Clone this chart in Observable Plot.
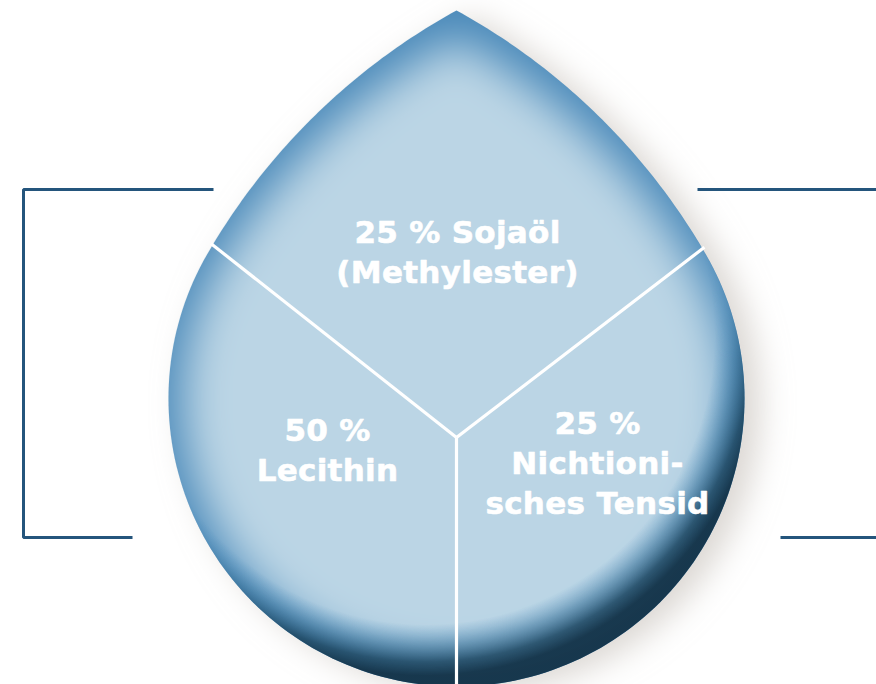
<!DOCTYPE html>
<html><head><meta charset="utf-8">
<script src="https://cdn.jsdelivr.net/npm/d3@7"></script>
<script src="https://cdn.jsdelivr.net/npm/@observablehq/plot@0.6"></script>
<style>body{margin:0;background:#fff}#chart{width:876px;height:684px;overflow:hidden}</style>
</head><body><div id="chart"></div>
<script>
// ---- data ----
const segments = ["Sojaöl (Methylester)", "Lecithin", "Nichtionisches Tensid"];
const shares = [25, 50, 25];
const labelLines = [
  ["25 % Sojaöl", "(Methylester)"],
  ["50 %", "Lecithin"],
  ["25 %", "Nichtioni-", "sches Tensid"]
];
const dividerAngles = [52.5, 180, 308.3]; // divider directions as drawn (deg, clockwise from up)

// ---- layout ----
const W = 876, H = 684;
const drop = {cx: 456, cy: 398, r: 288, apexY: 10, theta: 60};
const hub = {x: 456, y: 437};
const labelAnchor = [{x: 457, y: 242}, {x: 327, y: 440}, {x: 597, y: 433}];
const lineGap = 40;
const brackets = [
  {id: "L", pts: [[213, 189], [23, 189], [23, 537], [132, 537]]},
  {id: "R1", pts: [[697, 189], [880, 189]]},
  {id: "R2", pts: [[780, 537], [880, 537]]}
];

// ---- drop outline geometry ----
function dropOutline(d) {
  const {cx, cy, r, apexY} = d, th = d.theta * Math.PI / 180;
  const h = cy - apexY;
  const k = (h * h - r * r) / (2 * (r - h * Math.cos(th)));
  const R = k + r;
  const CL = [cx + k * Math.sin(th), cy + k * Math.cos(th)];
  const CR = [cx - k * Math.sin(th), cy + k * Math.cos(th)];
  const TL = [cx - r * Math.sin(th), cy - r * Math.cos(th)];
  const TR = [cx + r * Math.sin(th), cy - r * Math.cos(th)];
  const pts = [];
  const n = 60;
  let a0 = Math.atan2(apexY - CL[1], cx - CL[0]), a1 = Math.atan2(TL[1] - CL[1], TL[0] - CL[0]);
  for (let i = 0; i <= n; i++) { const a = a0 + (a1 - a0) * i / n; pts.push([CL[0] + R * Math.cos(a), CL[1] + R * Math.sin(a)]); }
  const b0 = Math.atan2(TL[1] - cy, TL[0] - cx), b0p = b0 < 0 ? b0 + 2 * Math.PI : b0;
  const b1 = Math.atan2(TR[1] - cy, TR[0] - cx);
  for (let i = 1; i < 160; i++) { const a = b0p + (b1 - b0p) * i / 160; pts.push([cx + r * Math.cos(a), cy + r * Math.sin(a)]); }
  a0 = Math.atan2(TR[1] - CR[1], TR[0] - CR[0]); a1 = Math.atan2(apexY - CR[1], cx - CR[0]);
  for (let i = 0; i <= n; i++) { const a = a0 + (a1 - a0) * i / n; pts.push([CR[0] + R * Math.cos(a), CR[1] + R * Math.sin(a)]); }
  return pts;
}
const outline = dropOutline(drop);
const outlineRows = outline.map(([x, y]) => ({x, y}));
const shadowRows = outline.map(([x, y]) => ({x: x + 16, y: y + 6}));
const innerRows = outline.map(([x, y]) => ({x: 446 + (x - 446) * 0.95, y: 410 + (y - 410) * 0.93}));

// dividers: run from the hub until they leave the drop
const dividers = dividerAngles.map(deg => {
  const a = deg * Math.PI / 180, dx = Math.sin(a), dy = -Math.cos(a);
  let t = 0;
  while (t < 1000 && d3.polygonContains(outline, [hub.x + t * dx, hub.y + t * dy])) t += 0.5;
  t += 2;
  return {x1: hub.x, y1: hub.y, x2: hub.x + t * dx, y2: hub.y + t * dy};
});

const textRows = labelLines.flatMap((lines, i) =>
  lines.map((line, j) => ({text: line, x: labelAnchor[i].x, y: labelAnchor[i].y + j * lineGap, seg: segments[i], share: shares[i]})));

const bracketRows = brackets.flatMap(b => b.pts.map(([x, y]) => ({id: b.id, x, y})));

// ---- gradients / filters ----
function defs() {
  const g = d3.create("svg:defs");
  const dark = g.append("radialGradient").attr("id", "darkGrad").attr("gradientUnits", "userSpaceOnUse")
    .attr("cx", 425).attr("cy", 335).attr("r", 340);
  [[0, "#3d86ba", 0], [0.85, "#3d86ba", 0], [0.91, "#2b6790", 0.5], [0.96, "#1b4560", 0.85], [1, "#133247", 0.95]]
    .forEach(([o, c, op]) => dark.append("stop").attr("offset", o).attr("stop-color", c).attr("stop-opacity", op));
  const mg = g.append("linearGradient").attr("id", "maskGrad").attr("gradientUnits", "userSpaceOnUse")
    .attr("x1", 0).attr("y1", 150).attr("x2", 0).attr("y2", 360);
  mg.append("stop").attr("offset", 0).attr("stop-color", "#000");
  mg.append("stop").attr("offset", 1).attr("stop-color", "#fff");
  g.append("mask").attr("id", "darkMask").attr("maskUnits", "userSpaceOnUse")
    .attr("x", 0).attr("y", 0).attr("width", W).attr("height", H)
    .append("rect").attr("width", W).attr("height", H).attr("fill", "url(#maskGrad)");
  g.append("clipPath").attr("id", "dropClip").append("path").attr("d", d3.line()(outline) + "Z");
  g.append("filter").attr("id", "blurF").attr("x", "-20%").attr("y", "-20%").attr("width", "140%").attr("height", "140%")
    .append("feGaussianBlur").attr("stdDeviation", 16);
  g.append("filter").attr("id", "blurIn").attr("x", "-20%").attr("y", "-20%").attr("width", "140%").attr("height", "140%")
    .append("feGaussianBlur").attr("stdDeviation", 22);
  return g.node();
}

const chart = Plot.plot({
  width: W, height: H,
  margin: 0,
  x: {domain: [0, W], range: [0, W], axis: null},
  y: {domain: [0, H], range: [0, H], axis: null},
  style: {background: "#ffffff"},
  marks: [
    defs,
    Plot.line(shadowRows, {x: "x", y: "y", curve: "linear-closed", fill: "#bdb6ae", fillOpacity: 0.55, stroke: "none"}),
    Plot.line(outlineRows, {x: "x", y: "y", curve: "linear-closed", fill: "#4b8aba", stroke: "none"}),
    Plot.line(innerRows, {x: "x", y: "y", curve: "linear-closed", fill: "#bbd5e5", stroke: "none"}),
    Plot.line(outlineRows, {x: "x", y: "y", curve: "linear-closed", fill: "url(#darkGrad)", stroke: "none"}),
    Plot.link(dividers, {x1: "x1", y1: "y1", x2: "x2", y2: "y2", stroke: "#ffffff", strokeWidth: 3.2}),
    Plot.line(bracketRows, {x: "x", y: "y", z: "id", stroke: "#24557c", strokeWidth: 3, strokeLinejoin: "miter", strokeLinecap: "butt"}),
    Plot.text(textRows, {x: "x", y: "y", text: "text", fill: "#ffffff", stroke: "#ffffff", strokeWidth: 0.6,
      fontSize: 31, fontWeight: "bold", fontFamily: "DejaVu Sans", textAnchor: "middle", lineAnchor: "bottom"})
  ]
});
const sel = d3.select(chart);
sel.selectAll("g[fill='#bdb6ae']").attr("filter", "url(#blurF)");
sel.selectAll("g[fill='#bbd5e5']").each(function() {
  const wrap = document.createElementNS("http://www.w3.org/2000/svg", "g");
  wrap.setAttribute("clip-path", "url(#dropClip)");
  this.parentNode.insertBefore(wrap, this);
  wrap.appendChild(this);
  this.setAttribute("filter", "url(#blurIn)");
});
sel.selectAll("g[fill='url(#darkGrad)']").attr("mask", "url(#darkMask)");
sel.selectAll("text").attr("letter-spacing", "0.3px");
document.getElementById("chart").appendChild(chart);
</script>
</body></html>
